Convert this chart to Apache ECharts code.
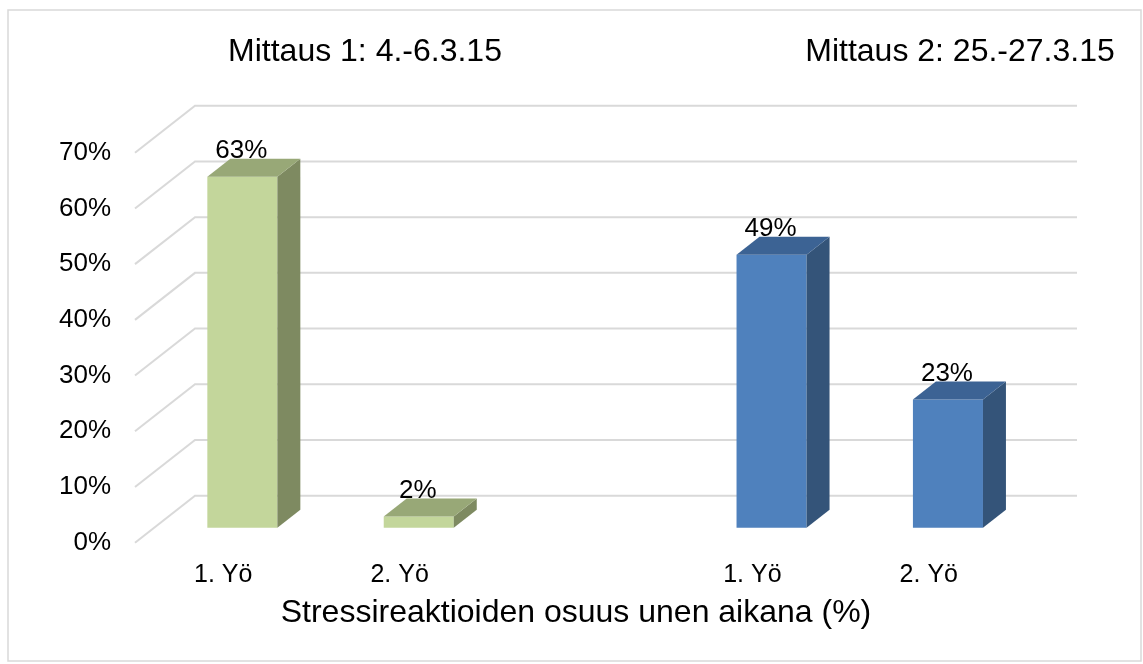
<!DOCTYPE html>
<html><head><meta charset="utf-8">
<script src="https://cdn.jsdelivr.net/npm/echarts@6/dist/echarts.min.js"></script>
<style>html,body{margin:0;padding:0;background:#fff}#c{width:1143px;height:664px}</style>
</head><body><div id="c"></div>
<script>
// ---- data ----
const categories = ['1. Yö', '2. Yö', '', '1. Yö', '2. Yö'];
const mittaus1Cats = [0, 1];
const mittaus1Values = [63, 2];
const mittaus2Cats = [3, 4];
const mittaus2Values = [49, 23];
const yTicks = [0, 10, 20, 30, 40, 50, 60, 70];
const groupTitles = ['Mittaus 1: 4.-6.3.15', 'Mittaus 2: 25.-27.3.15'];
const axisTitle = 'Stressireaktioiden osuus unen aikana (%)';

// ---- style ----
const FONT = '"Liberation Sans", Arial, sans-serif';
const DX = 60, DY = 47;          // depth of the 3D walls
const F1 = 15 / 47, F2 = 33 / 47; // bar front/back depth fractions
const green = { front: '#C3D69B', side: '#7E8A61', top: '#98A877' };
const blue = { front: '#4F81BD', side: '#345479', top: '#3C6394' };

function barRender(colors) {
  return function (params, api) {
    const cat = api.value(0), v = api.value(1);
    const base = api.coord([cat, 0]);
    const top = api.coord([cat, v]);
    const band = api.size([1, 0])[0];
    const w = band * 0.397;
    const ox = DX * F1, oy = -DY * F1;
    const dx = DX * (F2 - F1), dy = -DY * (F2 - F1);
    const xl = base[0] + ox - w / 2, xr = xl + w;
    const yb = base[1] + oy, yt = top[1] + oy;
    return {
      type: 'group', children: [
        { type: 'polygon', shape: { points: [[xl, yb], [xr, yb], [xr, yt], [xl, yt]] }, style: { fill: colors.front } },
        { type: 'polygon', shape: { points: [[xr, yb], [xr + dx, yb + dy], [xr + dx, yt + dy], [xr, yt]] }, style: { fill: colors.side } },
        { type: 'polygon', shape: { points: [[xl, yt], [xr, yt], [xr + dx, yt + dy], [xl + dx, yt + dy]] }, style: { fill: colors.top } },
        { type: 'text', style: { text: v + '%', x: (xl + xr) / 2 - 1, y: yt - 26, align: 'center', verticalAlign: 'middle', fontSize: 26, fontFamily: FONT, fill: '#000' } }
      ]
    };
  };
}

function gridRender(params, api) {
  const cs = params.coordSys;
  const y = api.coord([0, api.value(1)])[1];
  return {
    type: 'polyline',
    shape: { points: [[cs.x, y], [cs.x + DX, y - DY], [cs.x + cs.width + DX, y - DY]] },
    style: { stroke: '#D9D9D9', lineWidth: 2, fill: null }
  };
}

const chart = echarts.init(document.getElementById('c'), null, { renderer: 'canvas' });
chart.setOption({
  animation: false,
  backgroundColor: '#fff',
  grid: { left: 135, width: 882, top: 152.7, height: 390 },
  xAxis: {
    type: 'category', data: categories,
    axisLine: { show: false }, axisTick: { show: false },
    axisLabel: { interval: 0, fontSize: 25, fontFamily: FONT, color: '#000', margin: 20 },
    name: axisTitle, nameLocation: 'middle', nameGap: 54,
    nameTextStyle: { fontSize: 32, fontFamily: FONT, color: '#000' }
  },
  yAxis: {
    type: 'value', min: 0, max: 70, interval: 10,
    axisLine: { show: false }, axisTick: { show: false }, splitLine: { show: false },
    axisLabel: { formatter: '{value}%', fontSize: 26, fontFamily: FONT, color: '#000', margin: 24 }
  },
  graphic: [
    { type: 'rect', shape: { x: 8, y: 10, width: 1133, height: 651 }, style: { fill: null, stroke: '#D9D9D9', lineWidth: 1.5 }, silent: true },
    { type: 'text', x: 365, y: 52, style: { text: groupTitles[0], align: 'center', verticalAlign: 'middle', fontSize: 32, fontFamily: FONT, fill: '#000' } },
    { type: 'text', x: 960, y: 52, style: { text: groupTitles[1], align: 'center', verticalAlign: 'middle', fontSize: 32, fontFamily: FONT, fill: '#000' } }
  ],
  series: [
    { type: 'custom', renderItem: gridRender, data: yTicks.map(t => [0, t]), z: 1, silent: true },
    { type: 'custom', renderItem: barRender(green), data: mittaus1Cats.map((c, i) => [c, mittaus1Values[i]]), z: 2 },
    { type: 'custom', renderItem: barRender(blue), data: mittaus2Cats.map((c, i) => [c, mittaus2Values[i]]), z: 2 }
  ]
});
</script></body></html>
